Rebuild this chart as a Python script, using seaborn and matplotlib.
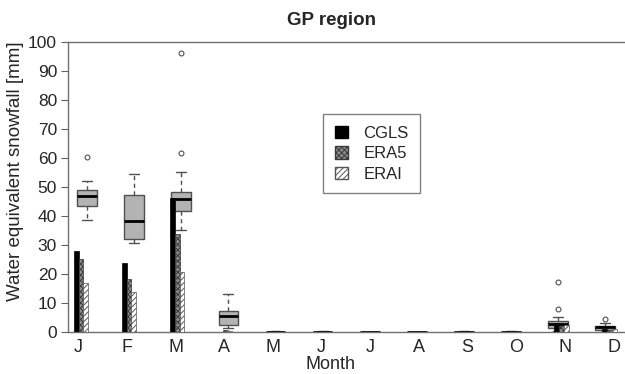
import numpy as np
import pandas as pd
import matplotlib
matplotlib.use("Agg")
import matplotlib.pyplot as plt
from matplotlib.patches import Patch
import seaborn as sns

months = ["J", "F", "M", "A", "M", "J", "J", "A", "S", "O", "N", "D"]

# yearly snowfall samples per month (boxplots)
jan = [38.6, 41.0, 42.8, 43.6, 44.5, 46.0, 46.9, 47.5, 48.3, 49.0, 50.5, 52.0, 60.4]
feb = [30.6, 31.2, 31.8, 32.0, 34.5, 36.9, 38.4, 41.0, 44.2, 47.1, 50.3, 52.8, 54.4]
mar = [35.2, 38.9, 40.7, 41.6, 43.4, 45.1, 46.0, 46.8, 47.5, 48.3, 55.3, 61.6, 96.0]
apr = [1.3, 1.9, 2.3, 2.6, 3.8, 4.9, 5.6, 6.1, 6.8, 7.2, 8.6, 10.5, 13.0]
may = [0, 0, 0, 0, 0, 0, 0.02, 0.05, 0.08, 0.1, 0.15, 0.2, 0.25]
jun = [0, 0, 0, 0, 0, 0, 0.02, 0.05, 0.08, 0.1, 0.15, 0.2, 0.25]
jul = [0, 0, 0, 0, 0, 0, 0, 0, 0, 0, 0, 0, 0]
aug = [0, 0, 0, 0, 0, 0, 0, 0, 0, 0, 0, 0, 0]
sep = [0, 0, 0, 0, 0, 0, 0.02, 0.05, 0.08, 0.1, 0.15, 0.2, 0.25]
oct_ = [0, 0, 0, 0, 0, 0, 0.02, 0.05, 0.08, 0.1, 0.15, 0.2, 0.25]
nov = [0.3, 0.8, 1.2, 1.5, 2.0, 2.5, 2.8, 3.1, 3.5, 3.8, 5.2, 7.8, 17.3]
dec = [0.0, 0.3, 0.6, 0.8, 1.1, 1.4, 1.6, 1.8, 2.0, 2.2, 2.6, 3.2, 4.6]

# single-product values (bars)
cgls = [28.0, 23.9, 46.3, 0.2, 0, 0, 0, 0, 0, 0, 3.0, 1.0]
era5 = [25.2, 18.4, 33.8, 0.6, 0, 0, 0, 0, 0, 0, 2.2, 0.8]
erai = [16.8, 13.8, 20.7, 0.3, 0, 0, 0, 0, 0, 0, 2.5, 0.9]

samples = [jan, feb, mar, apr, may, jun, jul, aug, sep, oct_, nov, dec]

sns.set_style("ticks")
plt.rcParams["font.family"] = ["Liberation Sans", "DejaVu Sans"]
plt.rcParams["hatch.linewidth"] = 0.7

fig = plt.figure(figsize=(6.25, 3.74), dpi=100)
ax = fig.add_axes([0.109, 0.112, 0.891, 0.776])

idx = np.arange(len(months))
box_pos = 0.185 + 0.967 * idx
bar_pos = -0.041 + 0.9867 * idx

box_df = pd.DataFrame({
    "pos": np.repeat(box_pos, [len(s) for s in samples]),
    "value": np.concatenate(samples),
})
sns.boxplot(
    data=box_df, x="pos", y="value", native_scale=True, width=0.42,
    color="#b3b3b3", linecolor="#505050", linewidth=1.0, ax=ax,
    whiskerprops={"linestyle": (0, (3, 2.5))},
    medianprops={"color": "black", "linewidth": 2.0},
    flierprops={"marker": "o", "markersize": 3.5, "markerfacecolor": "none",
                "markeredgecolor": "#505050", "markeredgewidth": 0.8},
)

styles = [
    (cgls, 0.0, "black", "black", None),
    (era5, 0.1, "#8c8c8c", "#3a3a3a", "xxxxxx"),
    (erai, 0.2, "white", "#555555", "//////"),
]
for vals, off, fc, ec, hatch in styles:
    df = pd.DataFrame({"pos": bar_pos + off, "value": vals})
    n_before = len(ax.patches)
    sns.barplot(data=df, x="pos", y="value", native_scale=True,
                width=0.1 / 0.9867, errorbar=None, color=fc, ax=ax,
                zorder=3)
    for p in ax.patches[n_before:]:
        p.set_facecolor(fc)
        p.set_edgecolor(ec)
        p.set_linewidth(0.5)
        if hatch:
            p.set_hatch(hatch)

ax.set_xlim(-0.205, 11.23)
ax.set_ylim(0, 100)
ax.set_xticks(idx)
ax.set_xticklabels(months, fontsize=13)
ax.set_yticks(np.arange(0, 101, 10))
ax.set_yticklabels([str(v) for v in range(0, 101, 10)], fontsize=12.5)
ax.tick_params(axis="x", length=0, pad=5)
ax.tick_params(axis="y", length=5, width=0.8, color="#606060", pad=3)
for s in ["left", "bottom", "top"]:
    ax.spines[s].set_color("#707070")
    ax.spines[s].set_linewidth(1.0)
ax.spines["right"].set_visible(False)

ax.set_xlabel("Month", fontsize=13, labelpad=0, x=0.472)
ax.set_ylabel("Water equivalent snowfall [mm]", fontsize=13.5, labelpad=3,
              y=0.555)
fig.text(0.531, 0.945, "GP region", ha="center", va="center",
         fontsize=13.5, fontweight="bold")

handles = [
    Patch(facecolor="black", edgecolor="black", label="CGLS"),
    Patch(facecolor="#8c8c8c", edgecolor="#3a3a3a", hatch="xxxxxx", label="ERA5"),
    Patch(facecolor="white", edgecolor="#555555", hatch="//////", label="ERAI"),
]
leg = ax.legend(handles=handles, loc="upper left", bbox_to_anchor=(0.458, 0.752),
                fontsize=12, frameon=True, fancybox=False, edgecolor="#606060",
                handlelength=0.8, handleheight=0.8, handletextpad=0.9,
                borderpad=0.7, labelspacing=0.32, borderaxespad=0)
leg.get_frame().set_linewidth(1.0)

fig.savefig("out.png", dpi=100)
